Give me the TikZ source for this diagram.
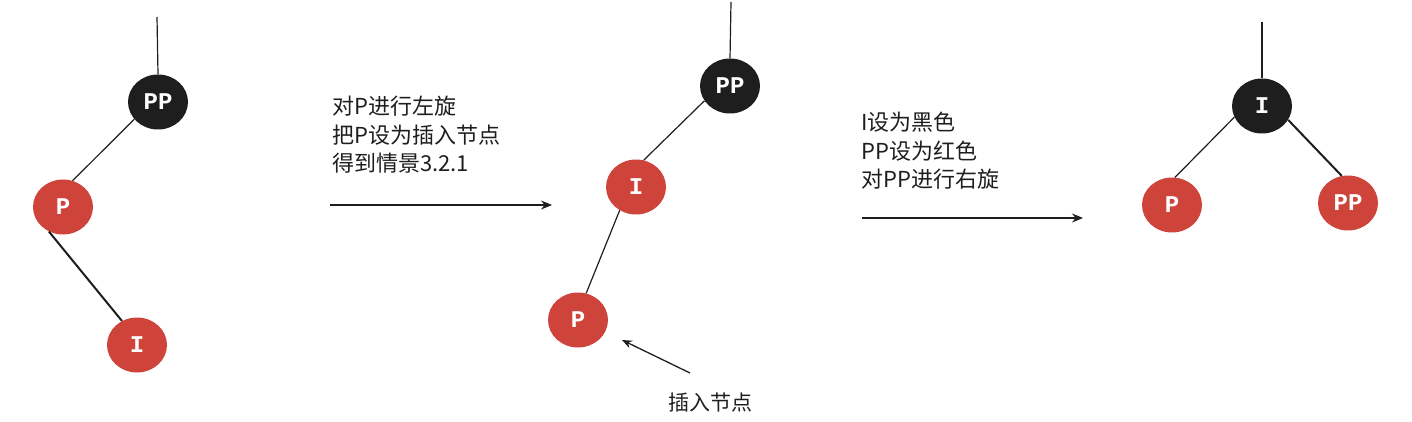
\documentclass[tikz,border=0pt]{standalone}
\usepackage{fontspec}
\setmainfont{Noto Sans CJK SC}
\newfontfamily\lblfont{Liberation Mono}
\usetikzlibrary{shapes.geometric,arrows.meta}
\definecolor{nodeblack}{HTML}{1E1E1E}
\definecolor{nodered}{HTML}{CF443A}
\definecolor{inkcol}{HTML}{1E1E1E}
\begin{document}
\begin{tikzpicture}[x=1pt,y=-1pt,
  treenode/.style={ellipse, minimum width=60pt, minimum height=55pt, inner sep=0pt, text=white,
    font=\lblfont\bfseries\fontsize{24}{24}\selectfont},
  bnode/.style={treenode, fill=nodeblack},
  rnode/.style={treenode, fill=nodered},
  edgeline/.style={draw=inkcol, line width=1.2pt},
  heavyline/.style={draw=inkcol, line width=2pt},
  bigarrow/.style={draw=inkcol, line width=1.6pt, -{Stealth[length=11pt,width=9pt]}},
  notearrow/.style={draw=inkcol, line width=1.3pt, -{Stealth[length=10pt,width=8pt]}},
  note/.style={font=\fontsize{22}{28.5}\selectfont, align=left, anchor=north west, inner sep=0pt, text=inkcol},
  label text/.style={font=\fontsize{21}{25}\selectfont, inner sep=0pt, text=inkcol}
]
\useasboundingbox (0,0) rectangle (1412,422);

% left tree
\node[bnode] (lpp) at (158,102) {PP};
\node[rnode] (lp) at (63,207) {P};
\node[rnode] (li) at (137,345) {I};
\coordinate (lt) at (157,17);
\draw[edgeline] (lt) -- (lpp.north);
\draw[edgeline] (lpp.216) -- (lp.70);
\draw[heavyline] (lp.240) -- (li.122);

% first transition
\node[note] (n1) at (332,96) {对P进行左旋\\把P设为插入节点\\得到情景3.2.1};
\coordinate (a1s) at (330,205);
\coordinate (a1e) at (552,205);
\draw[bigarrow] (a1s) -- (a1e);

% middle tree
\node[bnode] (mpp) at (730,86) {PP};
\node[rnode] (mi) at (636,187) {I};
\node[rnode] (mp) at (578,320) {P};
\coordinate (mt) at (731,2);
\draw[edgeline] (mt) -- (mpp.north);
\draw[edgeline] (mpp.210) -- (mi.74);
\draw[edgeline] (mi.235) -- (mp.73);

\node[label text] (ins) at (710,403) {插入节点};
\coordinate (ias) at (690,373);
\coordinate (iae) at (622,340);
\draw[notearrow] (ias) -- (iae);

% second transition
\node[note] (n2) at (861,112) {I设为黑色\\PP设为红色\\对PP进行右旋};
\coordinate (a2s) at (862,218);
\coordinate (a2e) at (1083,218);
\draw[bigarrow] (a2s) -- (a2e);

% right tree
\node[bnode] (ri) at (1262,106) {I};
\node[rnode] (rp) at (1172,205) {P};
\node[rnode] (rpp) at (1348,203) {PP};
\coordinate (rt) at (1262,22);
\draw[edgeline] (rt) -- (ri.north);
\draw[edgeline] (ri.202) -- (rp.84);
\draw[heavyline] (ri.332) -- (rpp.103);
\end{tikzpicture}
\end{document}
